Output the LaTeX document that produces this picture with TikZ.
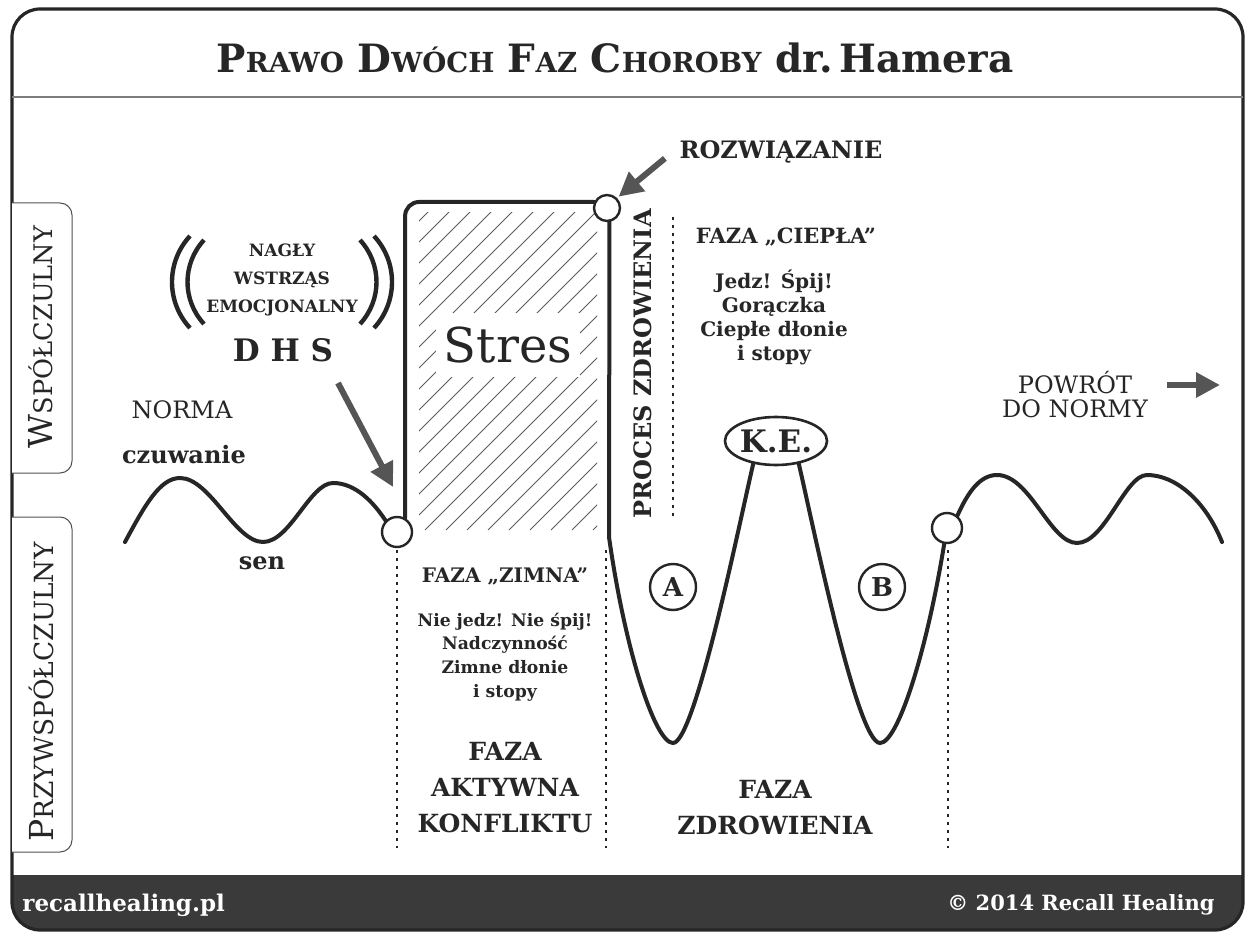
\documentclass[tikz,border=0pt]{standalone}
\usepackage{fontspec}
\setmainfont{DejaVu Serif}
\usetikzlibrary{arrows.meta,shapes.geometric}
\definecolor{ink}{HTML}{262626}
\definecolor{arrowgray}{HTML}{555555}
\definecolor{band}{HTML}{3A3A3A}
\newcommand\capword[3]{#2{\fontsize{#1}{#1}\selectfont#3}}
\tikzset{
	curve/.style={draw=ink, line width=2pt, line cap=round},
	joint/.style={circle, draw=ink, line width=1.2pt, fill=white, minimum size=15pt, inner sep=0pt},
	phase/.style={circle, draw=ink, line width=1.2pt, minimum size=23pt, inner sep=0pt, text=ink, font=\bfseries\fontsize{13}{13}\selectfont},
	hatch/.style={draw=ink!75, line width=0.5pt},
	divider/.style={draw=ink, line width=1.3pt, dash pattern=on 1.5pt off 2.5pt},
	bigarrow/.style={draw=arrowgray, line width=3pt, -{Triangle[length=12pt,width=12pt]}},
	paren/.style={draw=ink, line width=2.2pt},
	tab/.style={draw=ink!80, line width=0.5pt, fill=white, rounded corners=6pt},
	boldlabel/.style 2 args={text=ink, align=center, font=\bfseries\fontsize{#1}{#2}\selectfont},
	plainlabel/.style 2 args={text=ink, align=center, font=\fontsize{#1}{#2}\selectfont}
}
\begin{document}
\begin{tikzpicture}[x=0.5pt, y=-0.5pt]
	\useasboundingbox (0,0) rectangle (1246,935);
	\begin{scope}
		\clip[rounded corners=14pt] (12,9) rectangle (1243,930);
		\fill[white] (0,0) rectangle (1246,935);
		\fill[band] (0,875) rectangle (1246,935);
	\end{scope}
	\draw[ink, line width=1.6pt, rounded corners=14pt] (12,9) rectangle (1243,930);
	\draw[ink!60, line width=0.6pt] (12,97) -- (1243,97);

	\node[text=ink, font=\bfseries\fontsize{19.5}{19.5}\selectfont] (title) at (615,58)
		{\capword{13.8}{P}{RAWO} \capword{13.8}{D}{WÓCH} \capword{13.8}{F}{AZ} \capword{13.8}{C}{HOROBY} dr.\,Hamera};

	\draw[tab] (12,203) -- (72,203) -- (72,473) -- (12,473);
	\draw[tab] (12,517) -- (72,517) -- (72,852) -- (12,852);
	\node[rotate=90, plainlabel={16.5}{16.5}] (sympathetic) at (41,337) {\capword{12.8}{W}{SPÓŁCZULNY}};
	\node[rotate=90, plainlabel={16.5}{16.5}] (vagotonic) at (41,692) {\capword{13.2}{P}{RZYWSPÓŁCZULNY}};

	\begin{scope}
		\clip (419,213) rectangle (597,530);
		\foreach \k in {89,110,...,600}
			\draw[hatch] (\k,530) -- ++(330,-330);
	\end{scope}
	\node[fill=white, inner xsep=4pt, inner ysep=7pt, plainlabel={24}{24}] (stress) at (508,345) {Stres};

	\node[joint] (dhsjoint) at (397,532) {};
	\node[joint, minimum size=13pt] (solution) at (607,208) {};
	\node[joint] (returnjoint) at (947,528) {};
	\node[ellipse, draw=ink, line width=1.3pt, inner sep=0pt, minimum width=50pt, minimum height=24pt,
		font=\bfseries\fontsize{15.5}{15.5}\selectfont, text=ink] (ke) at (776,441) {K.E.};
	\node[phase] (phaseA) at (673,587) {A};
	\node[phase] (phaseB) at (882,587) {B};

	\draw[curve] (125,542) .. controls (145,505) and (160,478) .. (180,478)
		.. controls (210,478) and (235,542) .. (263,542)
		.. controls (290,542) and (310,483) .. (333,483)
		.. controls (356,483) and (374,503) .. (dhsjoint.135);
	\draw[curve, rounded corners=7pt] (dhsjoint.60) |- (solution.155);
	\draw[curve] (solution.-80) -- (609,537)
		.. controls (625,650) and (655,743) .. (673,743)
		.. controls (695,743) and (740,520) .. (ke.-135);
	\draw[curve] (ke.-45) .. controls (812,520) and (857,743) .. (880,743)
		.. controls (898,743) and (927,650) .. (returnjoint.-100);
	\draw[curve] (returnjoint.50) .. controls (968,492) and (980,475) .. (997,475)
		.. controls (1030,475) and (1050,543) .. (1077,543)
		.. controls (1105,543) and (1125,475) .. (1147,475)
		.. controls (1175,475) and (1205,500) .. (1222,542);

	\draw[paren] (190,236) .. controls (166,262) and (166,302) .. (190,328);
	\draw[paren] (204,240) .. controls (182,264) and (182,300) .. (204,324);
	\draw[paren] (374,236) .. controls (398,262) and (398,302) .. (374,328);
	\draw[paren] (360,240) .. controls (382,264) and (382,300) .. (360,324);
	\node[boldlabel={8.5}{14}] (shock) at (282,280) {NAGŁY\\WSTRZĄS\\EMOCJONALNY};
	\node[boldlabel={15.5}{15.5}] (dhs) at (283,350) {D H S};
	\coordinate (dhstail) at (338,383);
	\coordinate (dhstip) at (393,487);
	\draw[bigarrow] (dhstail) -- (dhstip);

	\node[plainlabel={12}{12}] (norm) at (182,410) {NORMA};
	\node[boldlabel={12}{12}] (awake) at (184,455) {czuwanie};
	\node[boldlabel={12}{12}] (sleep) at (262,563) {sen};

	\node[boldlabel={12}{12}] (rozw) at (781,152) {ROZWIĄZANIE};
	\draw[bigarrow, shorten <=5pt, shorten >=1pt] (rozw.west) -- (solution.45);

	\node[rotate=90, boldlabel={12}{12}] (healproc) at (643,364) {PROCES ZDROWIENIA};
	\draw[divider] (673,217) -- (673,518);
	\node[boldlabel={10.5}{10.5}] (warm) at (786,237) {FAZA „CIEPŁA”};
	\node[boldlabel={10}{12}] (warmtext) at (774,317) {Jedz! Śpij!\\Gorączka\\Ciepłe dłonie\\i stopy};

	\node[plainlabel={12}{12}] (back) at (1075,395) {POWRÓT\\DO NORMY};
	\coordinate (out) at (1220,385);
	\draw[bigarrow] ([xshift=6pt]back.east |- out) -- (out);

	\draw[divider] (397,550) -- (397,848);
	\draw[divider] (606,550) -- (606,848);
	\draw[divider] (948,550) -- (948,848);
	\node[boldlabel={10}{10}] (cold) at (505,577) {FAZA „ZIMNA”};
	\node[boldlabel={8.6}{11.8}] (coldtext) at (505,657) {Nie jedz! Nie śpij!\\Nadczynność\\Zimne dłonie\\i stopy};
	\node[boldlabel={12.5}{18}] (active) at (505,788) {FAZA\\AKTYWNA\\KONFLIKTU};
	\node[boldlabel={12.5}{18}] (healing) at (775,808) {FAZA\\ZDROWIENIA};

	\node[anchor=west, inner sep=0pt, text=white, font=\bfseries\fontsize{11.5}{11.5}\selectfont] (site) at (22,905) {recallhealing.pl};
	\node[anchor=east, inner sep=0pt, text=white, font=\bfseries\fontsize{10.5}{10.5}\selectfont] (copy) at (1215,905) {© 2014 Recall Healing};
\end{tikzpicture}
\end{document}
